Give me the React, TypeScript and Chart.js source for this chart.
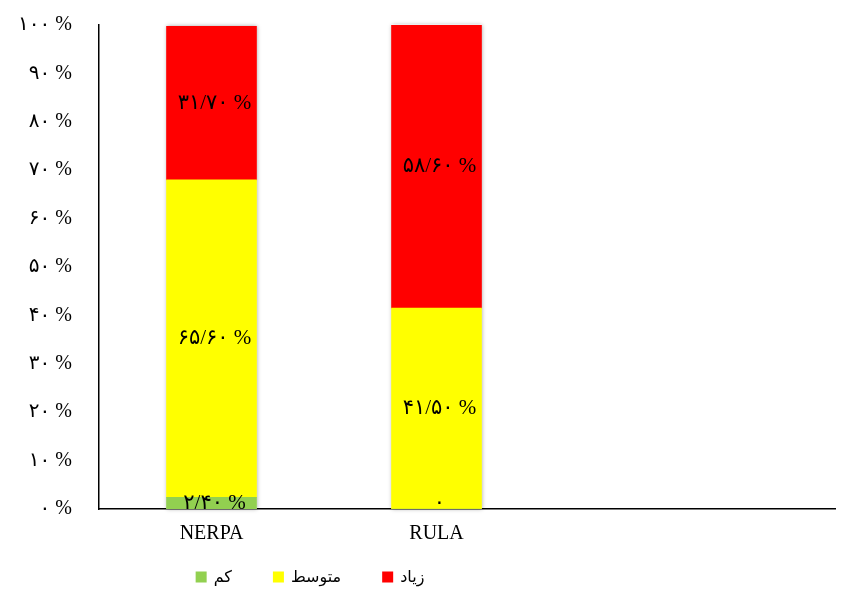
import React, { useEffect, useRef } from "react";
import { Chart, registerables } from "chart.js";

Chart.register(...registerables);

const categories = ["NERPA", "RULA"];
const seriesNames = ["کم", "متوسط", "زیاد"];
const lowValues = [2.4, 0];
const mediumValues = [65.6, 41.5];
const highValues = [31.7, 58.6];
const seriesColors = ["#92D050", "#FFFF00", "#FF0000"];
const yTicks = [0, 10, 20, 30, 40, 50, 60, 70, 80, 90, 100];

const FA_DIGITS = "۰۱۲۳۴۵۶۷۸۹";
const toFa = (s: string) => s.replace(/[0-9]/g, (d) => FA_DIGITS[Number(d)]);
const fmtValue = (v: number) => (v === 0 ? toFa("0") : toFa(v.toFixed(2).replace(".", "/")) + " %");

const barShadow = {
  id: "barShadow",
  beforeDatasetsDraw(chart: any) {
    const ctx = chart.ctx;
    const metas = chart.data.datasets.map((_: any, i: number) => chart.getDatasetMeta(i));
    categories.forEach((_, i) => {
      let top = Infinity;
      let base = -Infinity;
      let x = 0;
      let w = 0;
      metas.forEach((m: any) => {
        const el = m.data[i];
        if (!el) return;
        top = Math.min(top, el.y, el.base);
        base = Math.max(base, el.y, el.base);
        x = el.x;
        w = el.width;
      });
      ctx.save();
      ctx.shadowColor = "rgba(0,0,0,0.35)";
      ctx.shadowBlur = 4;
      ctx.fillStyle = "#ffffff";
      ctx.fillRect(x - w / 2, top, w, base - top);
      ctx.restore();
    });
  },
};

const valueLabels = {
  id: "valueLabels",
  afterDatasetsDraw(chart: any) {
    const ctx = chart.ctx;
    ctx.save();
    ctx.font = '21px "Liberation Serif", "DejaVu Sans", serif';
    ctx.fillStyle = "#000";
    ctx.textAlign = "center";
    ctx.textBaseline = "middle";
    chart.data.datasets.forEach((ds: any, di: number) => {
      const meta = chart.getDatasetMeta(di);
      meta.data.forEach((el: any, i: number) => {
        const v = ds.data[i].y;
        let cy = (el.y + el.base) / 2;
        cy = Math.min(cy, el.base - 6);
        ctx.fillText(fmtValue(v), el.x + 3, cy);
      });
    });
    ctx.restore();
  },
};

const customLegend = {
  id: "customLegend",
  afterDraw(chart: any) {
    const ctx = chart.ctx;
    ctx.save();
    ctx.font = '16px "DejaVu Sans", sans-serif';
    ctx.textBaseline = "middle";
    const box = 11;
    const gapText = 7;
    const gapItem = 41;
    const widths = chart.data.datasets.map((ds: any) => box + gapText + ctx.measureText(ds.label).width);
    const total = widths.reduce((a: number, b: number) => a + b, 0) + gapItem * (widths.length - 1);
    const centerX = 310;
    const cy = 578;
    let x = centerX - total / 2;
    chart.data.datasets.forEach((ds: any, i: number) => {
      ctx.fillStyle = ds.backgroundColor;
      ctx.fillRect(x, cy - box / 2 - 1, box, box);
      ctx.fillStyle = "#000";
      ctx.textAlign = "left";
      ctx.fillText(ds.label, x + box + gapText, cy);
      x += widths[i] + gapItem;
    });
    ctx.restore();
  },
};

export default function App() {
  const ref = useRef<HTMLCanvasElement | null>(null);
  useEffect(() => {
    document.body.style.margin = "0";
    if (!ref.current) return;
    const valueSets = [lowValues, mediumValues, highValues];
    const chart = new Chart(ref.current, {
      type: "bar",
      data: {
        datasets: seriesNames.map((name, si) => ({
          label: name,
          data: categories.map((_, i) => ({ x: i, y: valueSets[si][i] })),
          backgroundColor: seriesColors[si],
          borderWidth: 0,
          barThickness: 90,
        })),
      },
      options: {
        animation: false,
        responsive: true,
        maintainAspectRatio: false,
        layout: { padding: { left: 0, top: 25, right: 13, bottom: 0 } },
        plugins: {
          legend: { display: false },
          tooltip: { enabled: false },
        },
        scales: {
          x: {
            type: "linear",
            stacked: true,
            offset: false,
            min: -0.5,
            max: 2.771,
            grid: { display: false, drawTicks: false, offset: false },
            border: { display: true, color: "#000", width: 1.5 },
            afterBuildTicks: (scale: any) => {
              scale.ticks = categories.map((_, i) => ({ value: i }));
            },
            afterFit: (scale: any) => {
              scale.height = 81;
              scale.paddingLeft = 0;
              scale.paddingRight = 0;
            },
            ticks: {
              autoSkip: false,
              maxRotation: 0,
              padding: 13,
              color: "#000",
              font: { family: '"Liberation Serif", serif', size: 20 },
              callback: (v: any) => categories[Number(v)] ?? "",
            },
          },
          y: {
            stacked: true,
            min: 0,
            max: 100,
            grid: { display: false, drawTicks: false },
            border: { display: true, color: "#000", width: 1.5 },
            afterBuildTicks: (scale: any) => {
              scale.ticks = yTicks.map((v) => ({ value: v }));
            },
            afterFit: (scale: any) => {
              scale.width = 99;
              scale.paddingTop = 0;
              scale.paddingBottom = 0;
            },
            ticks: {
              padding: 27,
              color: "#000",
              font: { family: '"Liberation Serif", "DejaVu Sans", serif', size: 20 },
              callback: (v: any) => toFa(String(v)) + " %",
            },
          },
        },
      },
      plugins: [barShadow, valueLabels, customLegend],
    });
    return () => chart.destroy();
  }, []);
  return (
    <div style={{ width: 848, height: 590, position: "relative" }}>
      <canvas ref={ref} />
    </div>
  );
}
